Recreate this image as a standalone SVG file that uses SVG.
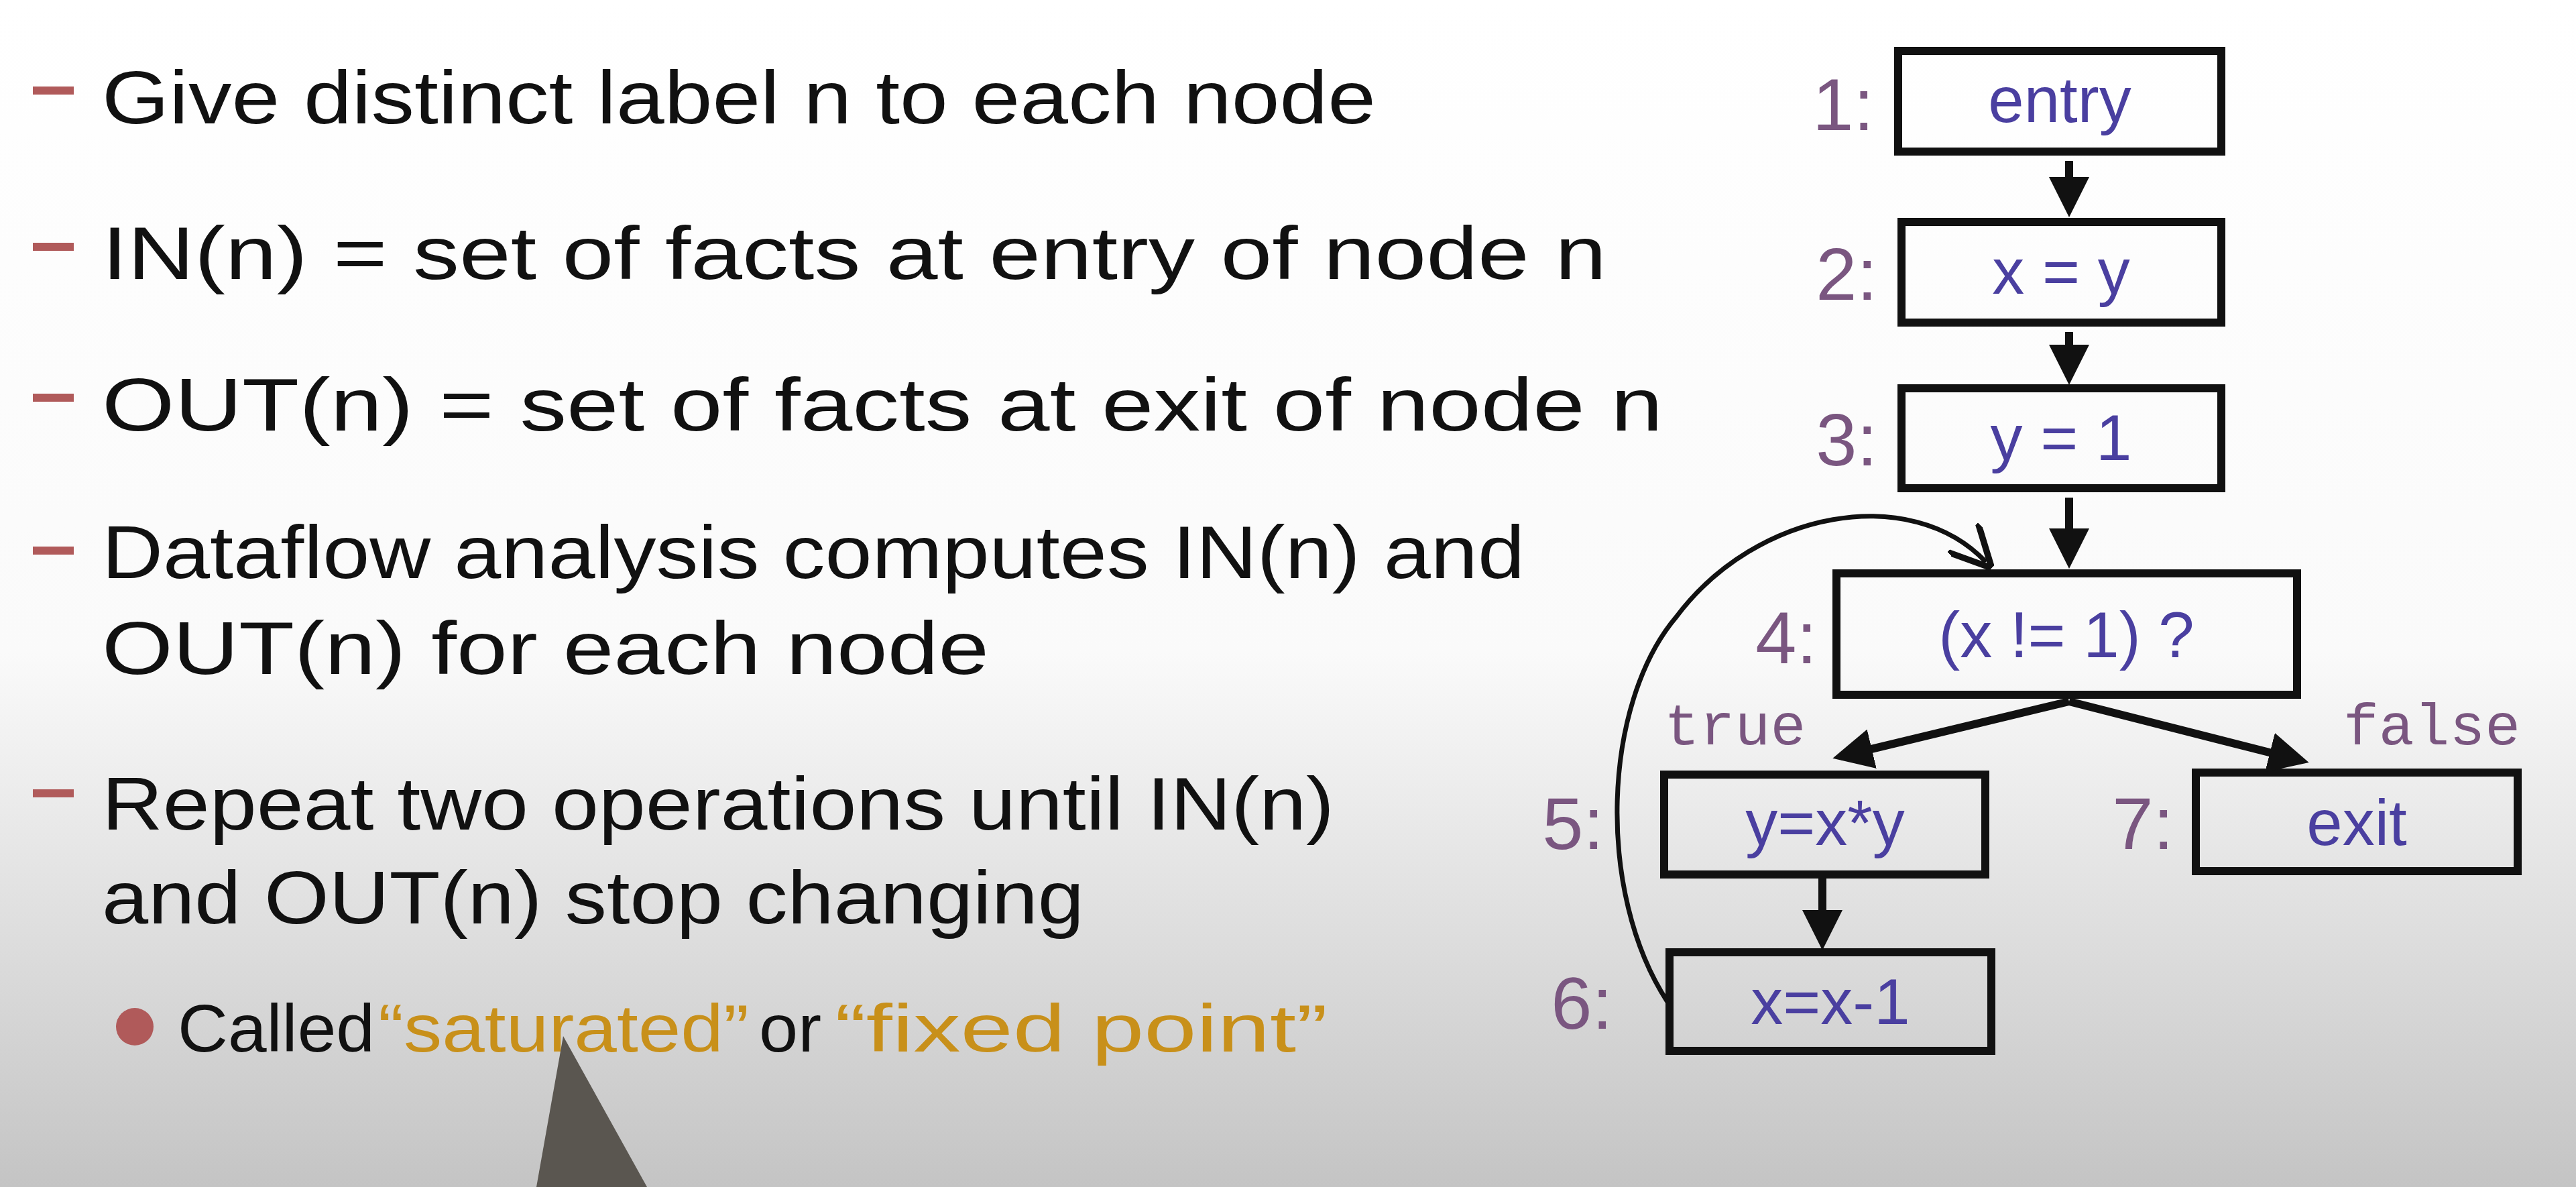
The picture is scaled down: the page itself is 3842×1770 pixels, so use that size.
<svg xmlns="http://www.w3.org/2000/svg" width="3842" height="1770" viewBox="0 0 3842 1770">
<style>
.t{font-family:"Liberation Sans",sans-serif;font-size:112px;fill:#111}
.o{fill:#c8901a}
.box{fill:none;stroke:#111;stroke-width:12}
.lab{font-family:"Liberation Sans",sans-serif;font-size:110px;fill:#7a5680;text-anchor:end}
.nt{font-family:"Liberation Sans",sans-serif;font-size:96px;fill:#4a3fa0;text-anchor:middle}
.tf{font-family:"Liberation Mono",monospace;font-size:88px;fill:#7a5680}
.e{fill:none;stroke:#111;stroke-width:12}
.dash{stroke:#b05a5a;stroke-width:12}
</style>
<defs>
<linearGradient id="bg" x1="0" y1="0" x2="0" y2="1">
<stop offset="0" stop-color="#fff"/><stop offset="0.55" stop-color="#fafafa"/><stop offset="1" stop-color="#c4c4c4"/>
</linearGradient>
<marker id="ah" viewBox="0 0 10 10" refX="8" refY="5" markerWidth="5" markerHeight="5" orient="auto" markerUnits="strokeWidth">
<path d="M0,0 L10,5 L0,10 z" fill="#111"/>
</marker>
<marker id="ah2" viewBox="0 0 10 10" refX="8" refY="5" markerWidth="9" markerHeight="9" orient="auto" markerUnits="strokeWidth">
<path d="M0,0 L10,5 L0,10" fill="none" stroke="#111" stroke-width="1.5"/>
</marker>
</defs>
<rect width="3842" height="1770" fill="url(#bg)"/>
<g id="text">
<line class="dash" x1="49" y1="135" x2="110" y2="135"/>
<text class="t" x="152" y="184" textLength="1900" lengthAdjust="spacingAndGlyphs">Give distinct label n to each node</text>
<line class="dash" x1="49" y1="368" x2="110" y2="368"/>
<text class="t" x="152" y="416" textLength="2244" lengthAdjust="spacingAndGlyphs">IN(n) = set of facts at entry of node n</text>
<line class="dash" x1="49" y1="593" x2="110" y2="593"/>
<text class="t" x="152" y="642" textLength="2328" lengthAdjust="spacingAndGlyphs">OUT(n) = set of facts at exit of node n</text>
<line class="dash" x1="49" y1="821" x2="110" y2="821"/>
<text class="t" x="152" y="862" textLength="2122" lengthAdjust="spacingAndGlyphs">Dataflow analysis computes IN(n) and</text>
<text class="t" x="152" y="1005" textLength="1323" lengthAdjust="spacingAndGlyphs">OUT(n) for each node</text>
<line class="dash" x1="49" y1="1183" x2="110" y2="1183"/>
<text class="t" x="152" y="1237" textLength="1838" lengthAdjust="spacingAndGlyphs">Repeat two operations until IN(n)</text>
<text class="t" x="152" y="1377" textLength="1465" lengthAdjust="spacingAndGlyphs">and OUT(n) stop changing</text>
<circle cx="201" cy="1531" r="28" fill="#b05a5a"/>
<text class="t" x="265" y="1568" style="font-size:100px" textLength="294" lengthAdjust="spacingAndGlyphs">Called</text>
<text class="t o" x="564" y="1568" style="font-size:100px" textLength="553" lengthAdjust="spacingAndGlyphs">“saturated”</text>
<text class="t" x="1132" y="1568" style="font-size:100px" textLength="93" lengthAdjust="spacingAndGlyphs">or</text>
<text class="t o" x="1245" y="1568" style="font-size:100px" textLength="735" lengthAdjust="spacingAndGlyphs">“fixed point”</text>
</g>
<polygon points="840,1545 800,1770 965,1770" fill="#5a5650"/>
<g id="n1"><rect class="box" x="2831" y="76" width="482" height="150"/><text class="lab" x="2795" y="194">1:</text><text class="nt" x="3072" y="182">entry</text></g>
<g id="n2"><rect class="box" x="2836" y="331" width="477" height="150"/><text class="lab" x="2800" y="447">2:</text><text class="nt" x="3074" y="438">x = y</text></g>
<g id="n3"><rect class="box" x="2836" y="579" width="477" height="149"/><text class="lab" x="2800" y="694">3:</text><text class="nt" x="3074" y="686">y = 1</text></g>
<g id="n4"><rect class="box" x="2739" y="855" width="687" height="181"/><text class="lab" x="2710" y="989">4:</text><text class="nt" x="3082" y="980">(x != 1) ?</text></g>
<g id="n5"><rect class="box" x="2482" y="1155" width="479" height="149"/><text class="lab" x="2392" y="1266">5:</text><text class="nt" x="2722" y="1260">y=x*y</text></g>
<g id="n7"><rect class="box" x="3275" y="1152" width="480" height="147"/><text class="lab" x="3242" y="1266">7:</text><text class="nt" x="3515" y="1260">exit</text></g>
<g id="n6"><rect class="box" x="2490" y="1420" width="480" height="147"/><text class="lab" x="2405" y="1534">6:</text><text class="nt" x="2730" y="1527">x=x-1</text></g>
<g id="edges">
<line class="e" x1="3086" y1="240" x2="3086" y2="312" marker-end="url(#ah)"/>
<line class="e" x1="3086" y1="495" x2="3086" y2="562" marker-end="url(#ah)"/>
<line class="e" x1="3086" y1="742" x2="3086" y2="836" marker-end="url(#ah)"/>
<line class="e" x1="3086" y1="1046" x2="2745" y2="1128" marker-end="url(#ah)"/>
<line class="e" x1="3086" y1="1046" x2="3432" y2="1134" marker-end="url(#ah)"/>
<line class="e" x1="2718" y1="1310" x2="2718" y2="1405" marker-end="url(#ah)"/>
<path d="M2487,1494 C2380,1330 2390,1050 2500,920 C2620,760 2850,720 2962,838" fill="none" stroke="#111" stroke-width="7" marker-end="url(#ah2)"/>
<text class="tf" x="2482" y="1110">true</text>
<text class="tf" x="3495" y="1110">false</text>
</g>
</svg>
